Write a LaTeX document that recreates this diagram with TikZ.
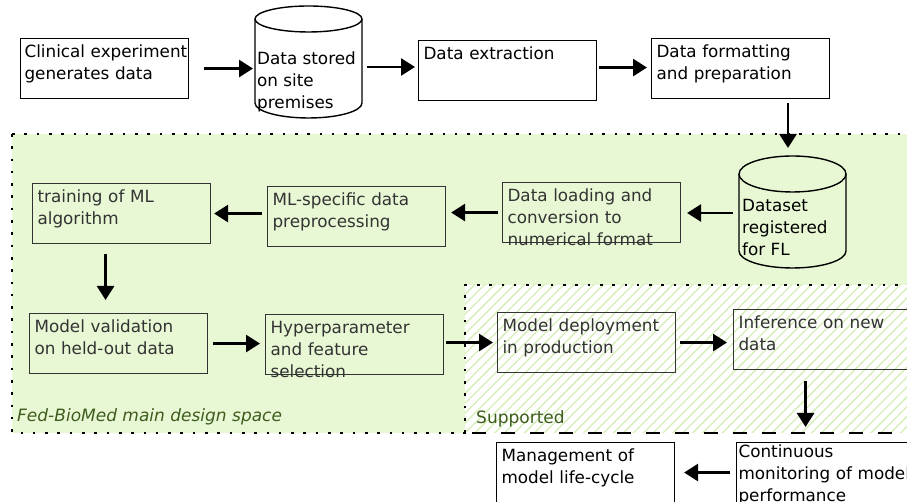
\documentclass[tikz,border=0pt]{standalone}
\usepackage{fontspec}
\setmainfont{DejaVu Sans}
\usetikzlibrary{arrows.meta,positioning,patterns.meta}

\definecolor{designgreen}{RGB}{233,248,212}
\definecolor{hatchgreen}{RGB}{212,238,182}
\definecolor{labelgreen}{RGB}{62,92,30}

\begin{document}
\begin{tikzpicture}[x=1pt, y=1pt, font=\fontsize{16.8}{22}\selectfont]
    \tikzstyle{proc}=[draw, rectangle, anchor=north west, align=left, line width=1.1pt,
        inner xsep=5pt, inner ysep=3pt, text width=168pt, text height=15.5pt, text depth=38.5pt]
    \tikzstyle{inside}=[draw=black!80, text=black!80]
    \tikzstyle{drumtext}=[anchor=base west, inner sep=0pt]
    \tikzstyle{drumline}=[line width=1.4pt]
    \tikzstyle{flow}=[-{Triangle[length=14pt,width=17pt]}, line width=2.7pt]
    \tikzstyle{dots}=[line width=2.6pt, dash pattern=on 2.6pt off 9.7pt]
    \tikzstyle{arealbl}=[anchor=base west, inner sep=0pt, text=labelgreen]

    \useasboundingbox (0,0) rectangle (907,502);
    \clip (0,0) rectangle (907,502);

    % design space and supported area
    \fill[designgreen] (12,368) rectangle (915,69);
    \draw[dots] (12,368) -- (900,368);
    \draw[dots] (12,368) -- (12,69) -- (466,69);
    \fill[white] (465,217) rectangle (915,69);
    \fill[pattern={Lines[angle=45,distance=7pt,line width=1.3pt]}, pattern color=hatchgreen]
        (465,217) rectangle (915,69);
    \draw[dots] (465,69) -- (465,217) -- (907,217);
    \draw[line width=1.4pt, dash pattern=on 14pt off 15pt] (472,69) -- (907,69);

    \node[arealbl, font=\fontsize{17}{20}\selectfont\itshape] (designlbl) at (17,80)
        {Fed-BioMed main design space};
    \node[arealbl, font=\fontsize{17}{20}\selectfont] (supportlbl) at (476,78) {Supported};

    % storage drums
    \draw[drumline, fill=white] (255,483) -- (255,399)
        arc[start angle=180, end angle=360, x radius=53.5, y radius=15] -- (362,483)
        arc[start angle=0, end angle=180, x radius=53.5, y radius=13] -- cycle;
    \draw[drumline] (255,483) arc[start angle=180, end angle=360, x radius=53.5, y radius=13];
    \draw[drumline] (739,328) -- (739,251)
        arc[start angle=180, end angle=360, x radius=53.5, y radius=17] -- (846,328)
        arc[start angle=0, end angle=180, x radius=53.5, y radius=18] -- cycle;
    \draw[drumline] (739,328) arc[start angle=180, end angle=360, x radius=53.5, y radius=18];
    \coordinate (storeR) at (362,435);
    \coordinate (dsetT) at (788,346);
    \coordinate (dsetL) at (739,289);

    \node[drumtext] (store) at (257,437)
        {\begin{tabular}[t]{@{}l@{}}Data stored\\on site\\premises\end{tabular}};
    \node[drumtext] (dset) at (742,290)
        {\begin{tabular}[t]{@{}l@{}}Dataset\\registered\\for FL\end{tabular}};

    % process boxes
    \node[proc, text width=160pt, inner xsep=4pt] (clin) at (20,464)
        {\begin{tabular}[t]{@{}l@{}}Clinical experiment\\generates data\end{tabular}};
    \node[proc] (extract) at (418,462) {Data extraction};
    \node[proc] (format) at (651,464)
        {\begin{tabular}[t]{@{}l@{}}Data formatting\\and preparation\end{tabular}};

    \node[proc, inside] (train) at (32,319)
        {\begin{tabular}[t]{@{}l@{}}training of ML\\algorithm\end{tabular}};
    \node[proc, inside] (mlprep) at (267,316)
        {\begin{tabular}[t]{@{}l@{}}ML-specific data\\preprocessing\end{tabular}};
    \node[proc, inside] (load) at (502,320)
        {\begin{tabular}[t]{@{}l@{}}Data loading and\\conversion to\\numerical format\end{tabular}};
    \node[proc, inside] (valid) at (29,189)
        {\begin{tabular}[t]{@{}l@{}}Model validation\\on held-out data\end{tabular}};
    \node[proc, inside] (hyper) at (265,188)
        {\begin{tabular}[t]{@{}l@{}}Hyperparameter\\and feature\\selection\end{tabular}};
    \node[proc, inside] (deploy) at (497,190)
        {\begin{tabular}[t]{@{}l@{}}Model deployment\\in production\end{tabular}};
    \node[proc, inside, text width=190pt] (infer) at (733,193)
        {\begin{tabular}[t]{@{}l@{}}Inference on new\\data\end{tabular}};

    \node[proc, text width=190pt, inner xsep=2pt, inner ysep=0pt, text height=15pt, text depth=60pt]
        (monitor) at (736,60)
        {\begin{tabular}[t]{@{}l@{}}Continuous\\monitoring of model\\performance\end{tabular}};
    \node[proc] (manage) at (496,60)
        {\begin{tabular}[t]{@{}l@{}}Management of\\model life-cycle\end{tabular}};

    \path[flow]
    ([xshift=15pt]clin.east) edge ([xshift=-4pt]clin.east -| store.west)
    ([xshift=5pt]storeR) edge ([xshift=-3pt]storeR -| extract.west)
    ([xshift=2pt,yshift=3pt]extract.east) edge ([xshift=-4pt,yshift=3pt]extract.east -| format.west)
    ([yshift=-4pt]format.south -| dsetT) edge ([yshift=8pt]dsetT)
    ([xshift=-6pt]dsetL) edge ([xshift=6pt]dsetL -| load.east)
    ([xshift=-4pt]load.west) edge ([xshift=5pt]load.west -| mlprep.east)
    ([xshift=-5pt]mlprep.west |- train.east) edge ([xshift=3pt]train.east)
    ([xshift=-16pt,yshift=-10pt]train.south) edge ([xshift=-16pt,yshift=13pt]train.south |- valid.north)
    ([xshift=5pt]valid.east) edge ([xshift=-5pt]valid.east -| hyper.west)
    ([xshift=2pt]hyper.east |- deploy.west) edge ([xshift=-4pt]deploy.west)
    ([xshift=4pt]deploy.east) edge ([xshift=-6pt]deploy.east -| infer.west)
    ([xshift=-28pt,yshift=-11pt]infer.south) edge ([xshift=-28pt,yshift=15pt]monitor.north)
    ([xshift=-6pt]monitor.west |- manage.east) edge ([xshift=9pt]manage.east);

\end{tikzpicture}
\end{document}
